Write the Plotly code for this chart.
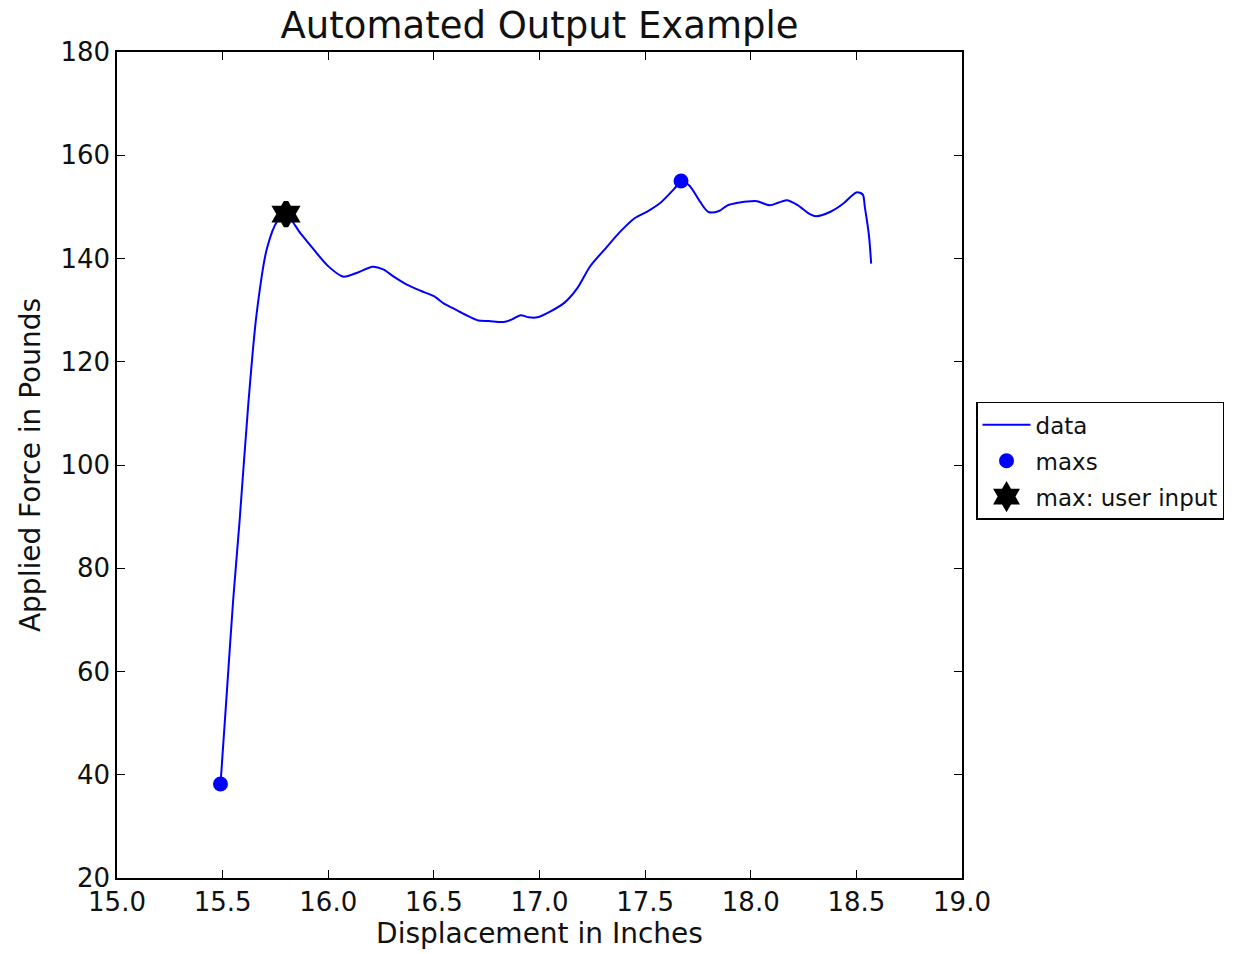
import plotly.graph_objects as go

# Force vs. displacement trace
displacement = [15.49, 15.52, 15.55, 15.58, 15.62, 15.66, 15.71, 15.76, 15.80, 15.87,
                15.93, 16.00, 16.07, 16.14, 16.21, 16.26, 16.31, 16.37, 16.44, 16.50,
                16.55, 16.59, 16.65, 16.71, 16.76, 16.83, 16.87, 16.91, 16.95, 16.99,
                17.05, 17.12, 17.18, 17.24, 17.32, 17.38, 17.45, 17.51, 17.57, 17.64,
                17.67, 17.71, 17.76, 17.80, 17.85, 17.89, 17.94, 18.00, 18.03, 18.09,
                18.13, 18.17, 18.22, 18.28, 18.31, 18.38, 18.44, 18.50, 18.53, 18.54,
                18.56, 18.57]
force = [38.2, 56.0, 73.9, 89.0, 111.0, 129.0, 142.0, 147.3, 148.5, 144.8,
         141.8, 138.5, 136.5, 137.3, 138.4, 137.9, 136.5, 135.0, 133.7, 132.7,
         131.2, 130.4, 129.1, 128.0, 127.9, 127.7, 128.2, 129.0, 128.6, 128.6,
         129.7, 131.5, 134.3, 138.5, 142.3, 145.1, 147.8, 149.1, 150.7, 153.6,
         155.0, 154.1, 151.0, 149.0, 149.2, 150.3, 150.8, 151.1, 151.1, 150.3,
         150.8, 151.3, 150.4, 148.6, 148.2, 149.1, 150.7, 152.8, 152.4, 150.0,
         144.3, 139.0]

# Detected extrema
maxs_x = [15.49, 15.80, 17.67]
maxs_y = [38.2, 148.5, 155.0]

# Maximum chosen by the user
user_x = [15.80]
user_y = [148.6]

x_ticks = [15.0, 15.5, 16.0, 16.5, 17.0, 17.5, 18.0, 18.5, 19.0]
y_ticks = [20, 40, 60, 80, 100, 120, 140, 160, 180]

font_family = "DejaVu Sans"
text_color = "#111"

fig = go.Figure()
fig.add_trace(go.Scatter(
    x=displacement, y=force, mode="lines", name="data", legendgroup="a",
    line=dict(color="#0000ff", width=2, shape="spline", smoothing=0.8),
))
fig.add_trace(go.Scatter(
    x=maxs_x, y=maxs_y, mode="markers", name="maxs", legendgroup="b",
    marker=dict(color="#0000ff", size=15, line=dict(width=0)),
))
fig.add_trace(go.Scatter(
    x=user_x, y=user_y, mode="markers", name="max: user input", legendgroup="c",
    marker=dict(color="black", size=18, symbol="hexagram",
                line=dict(color="black", width=5)),
))

axis_common = dict(
    showline=True, linecolor="black", linewidth=1.5, mirror="allticks",
    ticks="inside", ticklen=8, tickwidth=1, tickcolor="black",
    showgrid=False, zeroline=False,
    tickfont=dict(family=font_family, size=26, color=text_color),
)

fig.update_xaxes(
    range=[15.0, 19.0], tickvals=x_ticks,
    ticktext=[f"{v:.1f}" for v in x_ticks],
    title=dict(text="Displacement in Inches",
               font=dict(family=font_family, size=28, color=text_color), standoff=4),
    **axis_common,
)
fig.update_yaxes(
    range=[20, 180], tickvals=y_ticks,
    ticktext=[str(v) for v in y_ticks],
    title=dict(text="Applied Force in Pounds",
               font=dict(family=font_family, size=28, color=text_color), standoff=12),
    **axis_common,
)

fig.update_layout(
    width=1246, height=954,
    margin=dict(l=117, r=284, t=52, b=76),
    paper_bgcolor="white", plot_bgcolor="white",
    title=dict(text="Automated Output Example", x=0.5, xref="paper",
               y=1 - 25 / 954, yref="container", yanchor="middle",
               font=dict(family=font_family, size=37, color=text_color)),
    showlegend=True,
    legend=dict(
        x=1.0166, xanchor="left", y=0.505, yanchor="middle",
        bordercolor="black", borderwidth=1.5, bgcolor="white",
        font=dict(family=font_family, size=23, color=text_color),
        itemsizing="trace", itemwidth=48, tracegroupgap=3,
    ),
    font=dict(family=font_family),
)

fig.write_html("out.html")
